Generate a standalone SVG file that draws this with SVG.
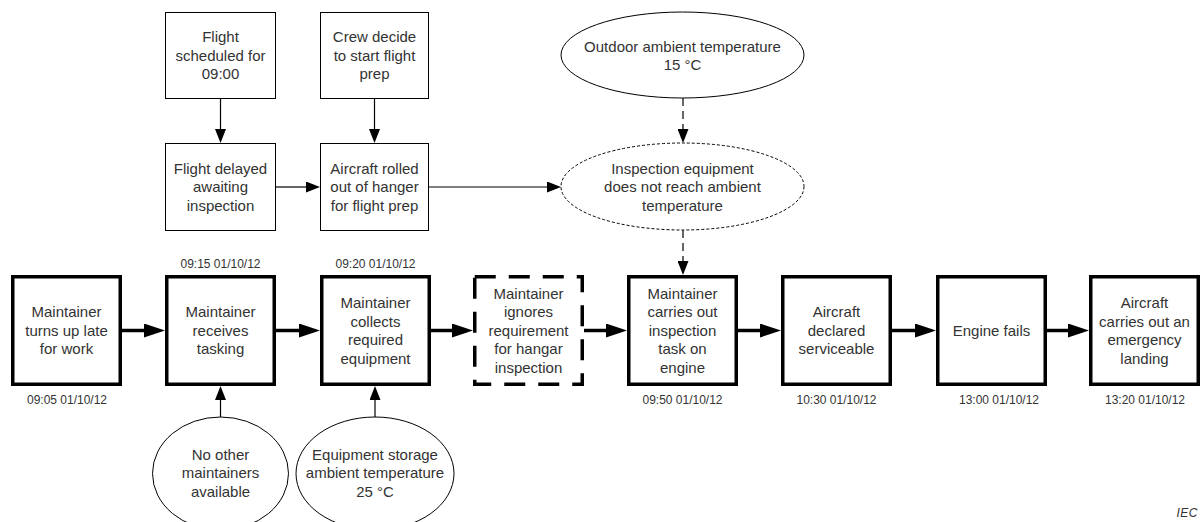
<svg xmlns="http://www.w3.org/2000/svg" width="1201" height="522" viewBox="0 0 1201 522">
<style>
.t{font-family:"Liberation Sans",Arial,sans-serif;font-size:15px;fill:#333;text-anchor:middle}
.ts{font-family:"Liberation Sans",Arial,sans-serif;font-size:12px;fill:#333;text-anchor:middle}
.thin{fill:#fff;stroke:#000;stroke-width:1}
.thick{fill:#fff;stroke:#000;stroke-width:3.5}
.dbox{fill:#fff;stroke:#000;stroke-width:3.5;stroke-dasharray:21 13}
.dell{fill:#fff;stroke:#000;stroke-width:1;stroke-dasharray:3 2}
.c{fill:none;stroke:#000;stroke-width:1.2}
.cd{fill:none;stroke:#000;stroke-width:1.2;stroke-dasharray:8 5}
.ct{fill:none;stroke:#000;stroke-width:3.5}
</style>
<defs>
<marker id="ah" markerUnits="userSpaceOnUse" viewBox="0 0 14 11" markerWidth="14" markerHeight="11" refX="0" refY="5.5" orient="auto"><path d="M0,0 L14,5.5 L0,11 z" fill="#000"/></marker>
<marker id="ahT" markerUnits="userSpaceOnUse" viewBox="0 0 21 14" markerWidth="21" markerHeight="14" refX="0" refY="7" orient="auto"><path d="M0,0 L21,7 L0,14 z" fill="#000"/></marker>
</defs>

<g id="connectors">
<path class="c" d="M220.5,99 L220.5,129" marker-end="url(#ah)"/>
<path class="c" d="M374.5,99 L374.5,129" marker-end="url(#ah)"/>
<path class="c" d="M276,187 L306,187" marker-end="url(#ah)"/>
<path class="c" d="M429,187 L547,187" marker-end="url(#ah)"/>
<path class="cd" d="M683,98 L683,129" marker-end="url(#ah)"/>
<path class="cd" d="M683,230 L683,261" marker-end="url(#ah)"/>
<path class="c" d="M220.5,417 L220.5,400" marker-end="url(#ah)"/>
<path class="c" d="M375,417 L375,400" marker-end="url(#ah)"/>
<path class="ct" d="M122,330.5 L144,330.5" marker-end="url(#ahT)"/>
<path class="ct" d="M276,330.5 L299,330.5" marker-end="url(#ahT)"/>
<path class="ct" d="M430,330.5 L452,330.5" marker-end="url(#ahT)"/>
<path class="ct" d="M584,330.5 L606,330.5" marker-end="url(#ahT)"/>
<path class="ct" d="M738,330.5 L760,330.5" marker-end="url(#ahT)"/>
<path class="ct" d="M892,330.5 L915,330.5" marker-end="url(#ahT)"/>
<path class="ct" d="M1046,330.5 L1068,330.5" marker-end="url(#ahT)"/>
</g>

<g id="flight-scheduled">
<rect class="thin" x="165.5" y="12.5" width="110" height="86"/>
<text class="t" x="220.5"><tspan x="220.5" y="42.3">Flight</tspan><tspan x="220.5" y="60.8">scheduled for</tspan><tspan x="220.5" y="79.3">09:00</tspan></text>
</g>
<g id="crew-decide">
<rect class="thin" x="320.5" y="12.5" width="108" height="86"/>
<text class="t"><tspan x="374.5" y="42.3">Crew decide</tspan><tspan x="374.5" y="60.8">to start flight</tspan><tspan x="374.5" y="79.3">prep</tspan></text>
</g>
<g id="flight-delayed">
<rect class="thin" x="165.5" y="143.5" width="110" height="87"/>
<text class="t"><tspan x="220.5" y="173.8">Flight delayed</tspan><tspan x="220.5" y="192.3">awaiting</tspan><tspan x="220.5" y="210.8">inspection</tspan></text>
</g>
<g id="aircraft-rolled">
<rect class="thin" x="320.5" y="143.5" width="108" height="87"/>
<text class="t"><tspan x="374.5" y="173.8">Aircraft rolled</tspan><tspan x="374.5" y="192.3">out of hanger</tspan><tspan x="374.5" y="210.8">for flight prep</tspan></text>
</g>
<g id="outdoor-temp">
<ellipse class="thin" cx="682.5" cy="55" rx="121.5" ry="43"/>
<text class="t"><tspan x="682.5" y="51.9">Outdoor ambient temperature</tspan><tspan x="682.5" y="70.4">15 °C</tspan></text>
</g>
<g id="equipment-temp">
<ellipse class="dell" cx="682.5" cy="186.5" rx="121.5" ry="43.5"/>
<text class="t"><tspan x="682.5" y="173.8">Inspection equipment</tspan><tspan x="682.5" y="192.3">does not reach ambient</tspan><tspan x="682.5" y="210.8">temperature</tspan></text>
</g>

<g id="late-for-work">
<rect class="thick" x="12.75" y="276.75" width="107.5" height="107.5"/>
<text class="t"><tspan x="66.5" y="317.3">Maintainer</tspan><tspan x="66.5" y="335.8">turns up late</tspan><tspan x="66.5" y="354.3">for work</tspan></text>
<text class="ts" x="67" y="404">09:05 01/10/12</text>
</g>
<g id="receives-tasking">
<rect class="thick" x="166.75" y="276.75" width="107.5" height="107.5"/>
<text class="t"><tspan x="220.5" y="317.3">Maintainer</tspan><tspan x="220.5" y="335.8">receives</tspan><tspan x="220.5" y="354.3">tasking</tspan></text>
<text class="ts" x="220.5" y="268">09:15 01/10/12</text>
</g>
<g id="collects-equipment">
<rect class="thick" x="321.75" y="276.75" width="107.5" height="107.5"/>
<text class="t"><tspan x="375.5" y="308.05">Maintainer</tspan><tspan x="375.5" y="326.55">collects</tspan><tspan x="375.5" y="345.05">required</tspan><tspan x="375.5" y="363.55">equipment</tspan></text>
<text class="ts" x="375.5" y="268">09:20 01/10/12</text>
</g>
<g id="ignores-requirement">
<rect class="dbox" x="474.75" y="276.75" width="107.5" height="107.5"/>
<text class="t"><tspan x="528.5" y="298.8">Maintainer</tspan><tspan x="528.5" y="317.3">ignores</tspan><tspan x="528.5" y="335.8">requirement</tspan><tspan x="528.5" y="354.3">for hangar</tspan><tspan x="528.5" y="372.8">inspection</tspan></text>
</g>
<g id="inspection-task">
<rect class="thick" x="628.75" y="276.75" width="107.5" height="107.5"/>
<text class="t"><tspan x="682.5" y="298.8">Maintainer</tspan><tspan x="682.5" y="317.3">carries out</tspan><tspan x="682.5" y="335.8">inspection</tspan><tspan x="682.5" y="354.3">task on</tspan><tspan x="682.5" y="372.8">engine</tspan></text>
<text class="ts" x="682.5" y="404">09:50 01/10/12</text>
</g>
<g id="declared-serviceable">
<rect class="thick" x="782.75" y="276.75" width="107.5" height="107.5"/>
<text class="t"><tspan x="836.5" y="317.3">Aircraft</tspan><tspan x="836.5" y="335.8">declared</tspan><tspan x="836.5" y="354.3">serviceable</tspan></text>
<text class="ts" x="836.5" y="404">10:30 01/10/12</text>
</g>
<g id="engine-fails">
<rect class="thick" x="937.75" y="276.75" width="107.5" height="107.5"/>
<text class="t" x="991.5" y="335.8">Engine fails</text>
<text class="ts" x="999" y="404">13:00 01/10/12</text>
</g>
<g id="emergency-landing">
<rect class="thick" x="1090.75" y="276.75" width="107.5" height="107.5"/>
<text class="t"><tspan x="1144.5" y="308.05">Aircraft</tspan><tspan x="1144.5" y="326.55">carries out an</tspan><tspan x="1144.5" y="345.05">emergency</tspan><tspan x="1144.5" y="363.55">landing</tspan></text>
<text class="ts" x="1145" y="404">13:20 01/10/12</text>
</g>
<g id="no-other-maintainers">
<ellipse class="thin" cx="220.5" cy="473.5" rx="68" ry="56.5"/>
<text class="t"><tspan x="220.5" y="459.8">No other</tspan><tspan x="220.5" y="478.3">maintainers</tspan><tspan x="220.5" y="496.8">available</tspan></text>
</g>
<g id="storage-temp">
<ellipse class="thin" cx="375" cy="473.5" rx="79" ry="56.5"/>
<text class="t"><tspan x="375" y="459.8">Equipment storage</tspan><tspan x="375" y="478.3">ambient temperature</tspan><tspan x="375" y="496.8">25 °C</tspan></text>
</g>
<text id="iec" x="1198" y="517" style="font-family:'Liberation Sans',Arial,sans-serif;font-size:12px;font-style:italic;fill:#333;text-anchor:end;letter-spacing:0.5px">IEC</text>
</svg>
